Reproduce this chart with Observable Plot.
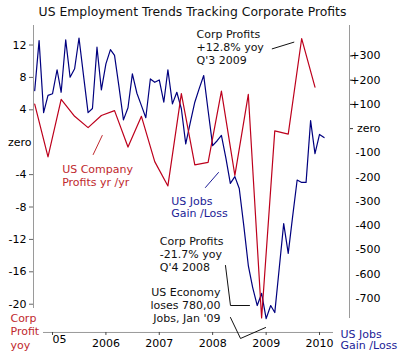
<!DOCTYPE html>
<html><head><meta charset="utf-8">
<script src="https://cdn.jsdelivr.net/npm/d3@7"></script>
<script src="https://cdn.jsdelivr.net/npm/@observablehq/plot@0.6"></script>
<style>
html,body{margin:0;padding:0;background:#fff;}
#chart svg{display:block;}
</style></head><body><div id="chart"></div>
<script>
const title = "US Employment Trends Tracking Corporate Profits";

// Corporate profits, % change year on year (quarterly)
const profitQuarters = ["2004 Q3","2004 Q4","2005 Q1","2005 Q2","2005 Q3","2005 Q4","2006 Q1","2006 Q2","2006 Q3","2006 Q4","2007 Q1","2007 Q2","2007 Q3","2007 Q4","2008 Q1","2008 Q2","2008 Q3","2008 Q4","2009 Q1","2009 Q2","2009 Q3","2009 Q4"];
const profitValues = [4.7,-1.8,5.3,3.2,1.8,3.3,3.9,-0.6,3.2,-2.4,-5.4,6.0,-2.8,-2.5,6.3,-4.1,5.9,-21.7,1.4,1.0,12.8,6.8];

// US monthly jobs gain / loss (thousands)
const jobMonths = ["2004-09","2004-10","2004-11","2004-12",
 "2005-01","2005-02","2005-03","2005-04","2005-05","2005-06","2005-07","2005-08","2005-09","2005-10","2005-11","2005-12",
 "2006-01","2006-02","2006-03","2006-04","2006-05","2006-06","2006-07","2006-08","2006-09","2006-10","2006-11","2006-12",
 "2007-01","2007-02","2007-03","2007-04","2007-05","2007-06","2007-07","2007-08","2007-09","2007-10","2007-11","2007-12",
 "2008-01","2008-02","2008-03","2008-04","2008-05","2008-06","2008-07","2008-08","2008-09","2008-10","2008-11","2008-12",
 "2009-01","2009-02","2009-03","2009-04","2009-05","2009-06","2009-07","2009-08","2009-09","2009-10","2009-11","2009-12",
 "2010-01","2010-02"];
const jobValues = [157,363,66,137,144,243,150,366,212,247,374,219,66,83,336,160,267,326,302,170,36,86,226,146,95,45,205,191,201,109,243,102,150,82,-63,25,109,165,219,75,-70,-50,-28,-123,-226,-198,-247,-400,-565,-656,-730,-680,-784,-730,-759,-573,-392,-515,-363,-212,-222,-222,33,-103,-24,-37];

const profitTicks = [12,8,4,0,-4,-8,-12,-16,-20];
const profitTickLabels = ["12","8","4","zero","-4","-8","-12","-16","-20"];
const jobTicks = [300,200,100,0,-100,-200,-300,-400,-500,-600,-700];
const jobTickLabels = ["+300","+200","+100","zero","-100","-200","-300","-400","-500","-600","-700"];
const yearTicks = [2005,2006,2007,2008,2009,2010];
const yearTickLabels = ["05","2006","2007","2008","2009","2010"];

// annotations (x in decimal years, y in profit % units)
const notes = [
  {label:"Corp Profits\n+12.8% yoy\nQ'3 2009", x:2007.697, y:11.78, anchor:"start", color:"#111", lh:1.16},
  {label:"US Company\nProfits yr /yr", x:2005.18, y:-4.07, anchor:"start", color:"#c0282d", lh:1.25},
  {label:"US Jobs\nGain /Loss", x:2007.223, y:-8.02, anchor:"start", color:"#1c1c96", lh:1.1},
  {label:"Corp Profits\n-21.7% yoy\nQ'4 2008", x:2007.009, y:-13.78, anchor:"start", color:"#111", lh:1.16},
  {label:"US Economy\nloses 780,00\nJobs, Jan '09", x:2008.146, y:-20.12, anchor:"end", color:"#111", lh:1.17},
  {label:"Corp\nProfit\nyoy", x:2004.2135, y:-23.3, anchor:"start", color:"#c0282d", lh:1.24},
  {label:"US Jobs\nGain /Loss", x:2010.393, y:-24.38, anchor:"start", color:"#1c1c96", lh:1.06}
];
const connectors = [
  {id:1, color:"#111", pts:[[2009.114,11.53],[2009.519,12.35]]},
  {id:2, color:"#c0282d", pts:[[2005.762,-1.52],[2005.931,0.83]]},
  {id:3, color:"#1c1c96", pts:[[2007.865,-5.59],[2008.109,-3.74]]},
  {id:4, color:"#111", pts:[[2008.240,-15.22],[2008.333,-20.16],[2008.689,-20.16]]},
  {id:5, color:"#111", pts:[[2008.333,-21.64],[2008.521,-24.23],[2008.989,-22.88]]}
];

const yearFracToDate = t => { const y = Math.floor(t); const s = Date.UTC(y,0,1), e = Date.UTC(y+1,0,1); return new Date(s + (t - y) * (e - s)); };
const quarterDate = q => new Date(Date.UTC(+q.slice(0,4), +q.slice(-1) * 3 - 1, 1));
const monthDate = m => new Date(Date.UTC(+m.slice(0,4), +m.slice(5) - 1, 1));

const profitData = profitQuarters.map((q,i) => ({date: quarterDate(q), value: profitValues[i]}));
const jobData = jobMonths.map((m,i) => ({date: monthDate(m), value: jobValues[i]}));
const yearDates = yearTicks.map(y => new Date(Date.UTC(y,0,1)));
const yearLabelOf = new Map(yearTicks.map((y,i) => [y, yearTickLabels[i]]));
const profitLabelOf = new Map(profitTicks.map((t,i) => [t, profitTickLabels[i]]));
const jobLabelOf = new Map(jobTicks.map((t,i) => [t, jobTickLabels[i]]));

// jobs axis aligned with the profit axis
const jobToProfit = d3.scaleLinear().domain([-724.5, 345]).range([-20, 12]);

const xDomain = [yearFracToDate(2004.6442), yearFracToDate(2010.5618)];
const yDomain = [-20.53, 14.41];
const baseY = -23.49;
const axisGray = "#9a9a9a";
const red = "#bd001c";
const navy = "#00007f";

const connectorRows = connectors.flatMap(c => c.pts.map(p => ({id:c.id, color:c.color, x:yearFracToDate(p[0]), y:p[1]})));

const chart = Plot.plot({
  width: 405, height: 355,
  marginLeft: 33, marginRight: 56, marginTop: 25, marginBottom: 47,
  style: {fontFamily: "DejaVu Sans", fontSize: "11px", color: "black", background: "white"},
  x: {type: "utc", domain: xDomain},
  y: {domain: yDomain},
  marks: [
    Plot.ruleX([xDomain[0]], {stroke: axisGray}),
    Plot.ruleX([xDomain[1]], {y1: 14.41, y2: -21.77, stroke: axisGray}),
    Plot.ruleY([baseY], {x1: yearFracToDate(2004.831), x2: yearFracToDate(2010.262), stroke: axisGray}),
    Plot.ruleX(yearDates, {y1: baseY, y2: baseY - 0.37, stroke: "#444"}),
    Plot.axisX({ticks: yearDates.slice(1), tickSize: 0, tickPadding: 31, label: null,
      tickFormat: d => yearLabelOf.get(d.getUTCFullYear())}),
    Plot.text(yearDates.slice(0,1), {x: d => d, frameAnchor: "bottom", dy: 34, textAnchor: "start", dx: 0,
      text: d => yearLabelOf.get(d.getUTCFullYear())}),
    Plot.axisY({anchor: "left", ticks: profitTicks.filter(t => t !== 0), tickSize: 4, tickPadding: 3, label: null,
      stroke: "#666", tickFormat: d => profitLabelOf.get(d)}),
    Plot.axisY({anchor: "left", ticks: [0], tickSize: 0, tickPadding: 2, label: null,
      tickFormat: d => profitLabelOf.get(d)}),
    Plot.axisY({anchor: "right", ticks: jobTicks.map(jobToProfit), tickSize: 0, tickPadding: 31, textAnchor: "end", label: null,
      tickFormat: d => jobLabelOf.get(Math.round(jobToProfit.invert(d)))}),
    Plot.axisY({anchor: "right", ticks: jobTicks.slice(0,4).map(jobToProfit), tickSize: 3, tickPadding: 0, label: null,
      stroke: "#333", tickFormat: () => ""}),
    Plot.line(jobData, {x: "date", y: d => jobToProfit(d.value), stroke: navy, strokeWidth: 1.2}),
    Plot.line(profitData, {x: "date", y: "value", stroke: red, strokeWidth: 1.2}),
    Plot.line(connectorRows, {x: "x", y: "y", z: "id", stroke: "color", strokeWidth: 1}),
    ...notes.map(n => Plot.text([n], {x: d => yearFracToDate(d.x), y: "y", text: "label", fill: n.color,
      textAnchor: n.anchor, lineAnchor: "middle", lineHeight: n.lh, fontSize: 11})),
    Plot.text([title], {frameAnchor: "top", dy: -13, dx: 1, text: d => d, fontSize: 12.4, lineAnchor: "middle", fill: "#111"})
  ]
});
document.getElementById("chart").appendChild(chart);
</script>
</body></html>
